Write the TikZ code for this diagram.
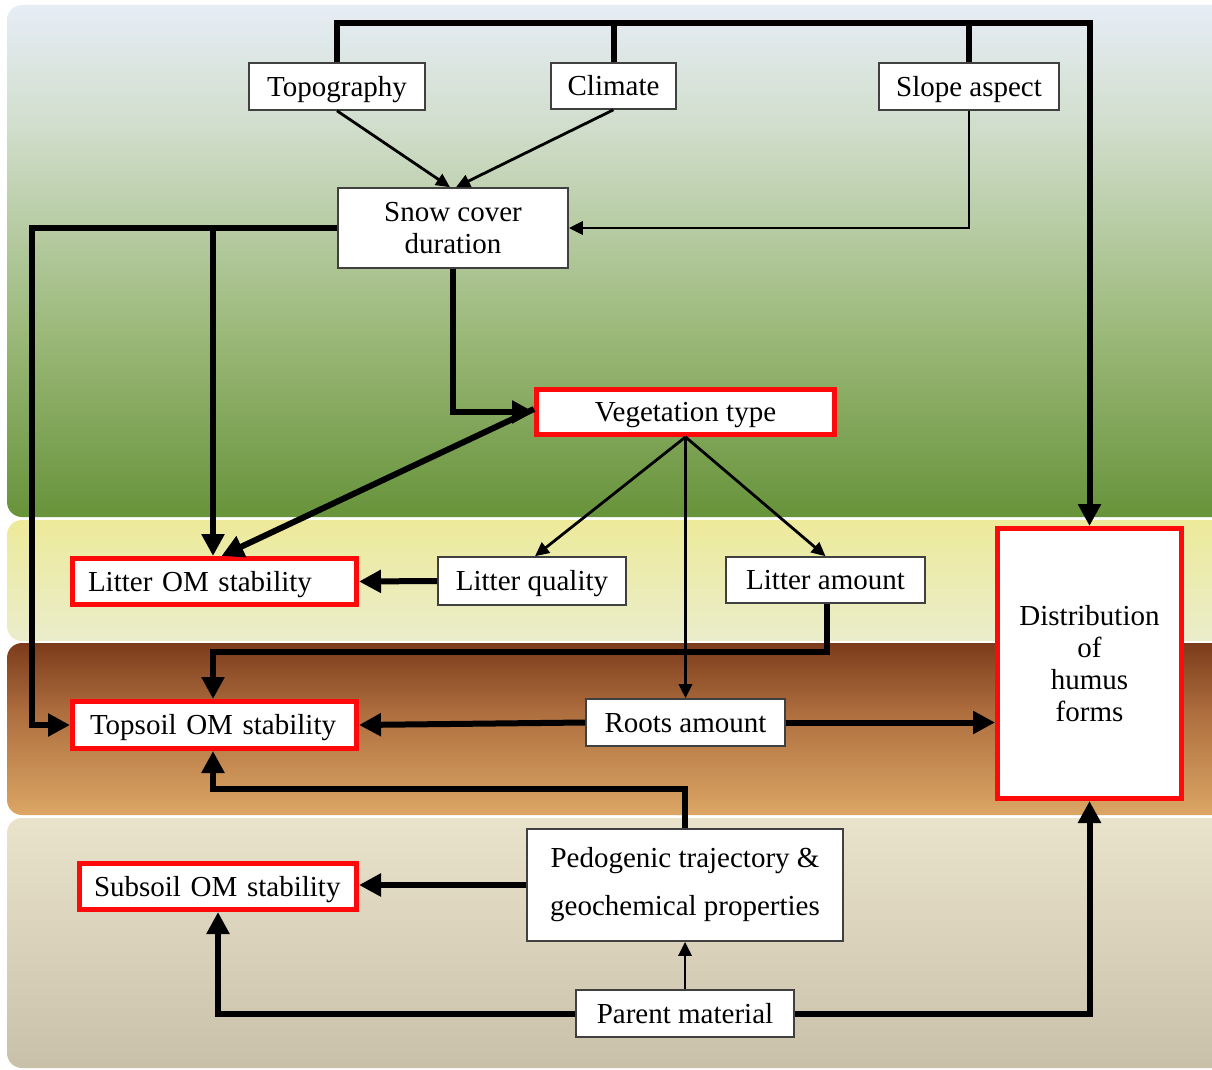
\documentclass[tikz,border=0pt]{standalone}
\usepackage{fontspec}
\setmainfont{Liberation Serif}
\usetikzlibrary{arrows.meta}
\definecolor{gA}{HTML}{E6EDF6}
\definecolor{gB}{HTML}{D0DDCA}
\definecolor{gC}{HTML}{9CB97A}
\definecolor{gD}{HTML}{67933A}
\definecolor{yA}{HTML}{EDEA9A}
\definecolor{yB}{HTML}{EAEDCB}
\definecolor{bA}{HTML}{7B3B1B}
\definecolor{bB}{HTML}{AD6D3E}
\definecolor{bC}{HTML}{DCA765}
\definecolor{sA}{HTML}{EAE3CC}
\definecolor{sB}{HTML}{C9C0A9}
\definecolor{boxline}{HTML}{404040}
\definecolor{redline}{HTML}{FF0A0A}
\begin{document}
\begin{tikzpicture}[x=1pt,y=-1pt,
  txt/.style={font=\fontsize{29}{32}\selectfont},
  one/.style={text height=19.5pt, text depth=0pt},
  box/.style={txt, draw=boxline, line width=1.6pt, fill=white, inner sep=0pt, align=center},
  redbox/.style={txt, draw=redline, line width=5pt, fill=white, inner sep=0pt},
  tline/.style={line width=6pt},
  tarrow/.style={line width=6pt, -{Triangle[length=22pt,width=22pt]}},
  narrow/.style={line width=2.8pt, -{Triangle[length=14pt,width=13pt]}}
]
\useasboundingbox (0,0) rectangle (1212,1070);
\fill[white] (0,0) rectangle (1212,1070);
% background bands
\begin{scope}
\clip[rounded corners=15] (7,5) rectangle (1240,517);
\shade[top color=gA, bottom color=gB] (0,4) rectangle (1240,131);
\shade[top color=gB, bottom color=gC] (0,130) rectangle (1240,331);
\shade[top color=gC, bottom color=gD] (0,330) rectangle (1240,518);
\end{scope}
\begin{scope}
\clip[rounded corners=15] (7,520) rectangle (1240,641);
\shade[top color=yA, bottom color=yB] (0,519) rectangle (1240,642);
\end{scope}
\begin{scope}
\clip[rounded corners=15] (7,643) rectangle (1240,815);
\shade[top color=bA, bottom color=bB] (0,642) rectangle (1240,711);
\shade[top color=bB, bottom color=bC] (0,710) rectangle (1240,816);
\end{scope}
\begin{scope}
\clip[rounded corners=15] (7,818) rectangle (1240,1068);
\shade[top color=sA, bottom color=sB] (0,817) rectangle (1240,1069);
\end{scope}

% nodes
\node[box, one, minimum width=176, minimum height=47] (topo) at (337,86.5) {Topography};
\node[box, one, minimum width=125, minimum height=46] (clim) at (613.5,86) {Climate};
\node[box, one, minimum width=180, minimum height=47] (slope) at (969,86.5) {Slope aspect};
\node[box, minimum width=230, minimum height=80] (snow) at (453,228) {Snow cover\\duration};
\node[redbox, one, minimum width=298, minimum height=45, align=center] (veg) at (685.5,412) {Vegetation type};
\node[redbox, one, minimum height=46, text width=253, inner xsep=15.5, align=left] (litom) at (214.5,581.5) {Litter OM stability};
\node[box, one, minimum width=188, minimum height=48] (lq) at (532,581) {Litter quality};
\node[box, one, minimum width=199, minimum height=46] (la) at (825.5,580) {Litter amount};
\node[redbox, minimum width=184, minimum height=270, align=center] (dist) at (1089.5,663.5) {Distribution\\of\\humus\\forms};
\node[redbox, one, minimum height=47, text width=249, inner xsep=17.5, align=left] (top) at (214.5,725) {Topsoil OM stability};
\node[box, one, minimum width=199, minimum height=47] (roots) at (685.5,722.5) {Roots amount};
\node[redbox, one, minimum height=46, text width=248, inner xsep=14.5, align=left] (sub) at (218,886.5) {Subsoil OM stability};
\node[box, minimum width=316, minimum height=112, font=\fontsize{29}{48}\selectfont] (ped) at (685,885) {Pedogenic trajectory \&\\geochemical properties};
\node[box, one, minimum width=218, minimum height=47] (par) at (685,1013.5) {Parent material};

% coordinates
\coordinate (tb) at (0,23);
\coordinate (lc) at (32,228);
\coordinate (br) at (213,228);
\coordinate (lh) at (0,652);
\coordinate (ph) at (0,789);

% connectors
\draw[tarrow] (topo.north) -- (topo.north |- tb) -| (dist.north);
\draw[tline] (clim.north) -- (clim.north |- tb);
\draw[tline] (slope.north) -- (slope.north |- tb);
\draw[narrow] (topo.south) -- ([xshift=-3]snow.north);
\draw[narrow] (clim.south) -- ([xshift=3]snow.north);
\draw[narrow] (slope.south) |- (snow.east);
\draw[tarrow] (snow.west) -- (lc) |- (top.west);
\draw[tarrow] (br) -- (br |- litom.north);
\draw[tarrow] (snow.south) |- (veg.west);
\draw[tarrow] ([yshift=3]veg.west) -- ([xshift=7]litom.north);
\draw[narrow] (veg.south) -- ([xshift=3]lq.north);
\draw[narrow] (veg.south) -- (la.north);
\draw[narrow] (veg.south) -- (roots.north);
\draw[tarrow] (lq.west) -- (litom.east);
\draw[tarrow] ([xshift=1]la.south) -- ([xshift=1]la.south |- lh) -| ([xshift=-1.5]top.north);
\draw[tarrow] (roots.west) -- (top.east);
\draw[tarrow] (roots.east) -- (roots.east -| dist.west);
\draw[tarrow] (ped.north) -- (ped.north |- ph) -| ([xshift=-1.5]top.south);
\draw[tarrow] (ped.west) -- (ped.west -| sub.east);
\draw[narrow] (par.north) -- (ped.south);
\draw[tarrow] (par.west) -| (sub.south);
\draw[tarrow] (par.east) -| (dist.south);
\end{tikzpicture}
\end{document}
